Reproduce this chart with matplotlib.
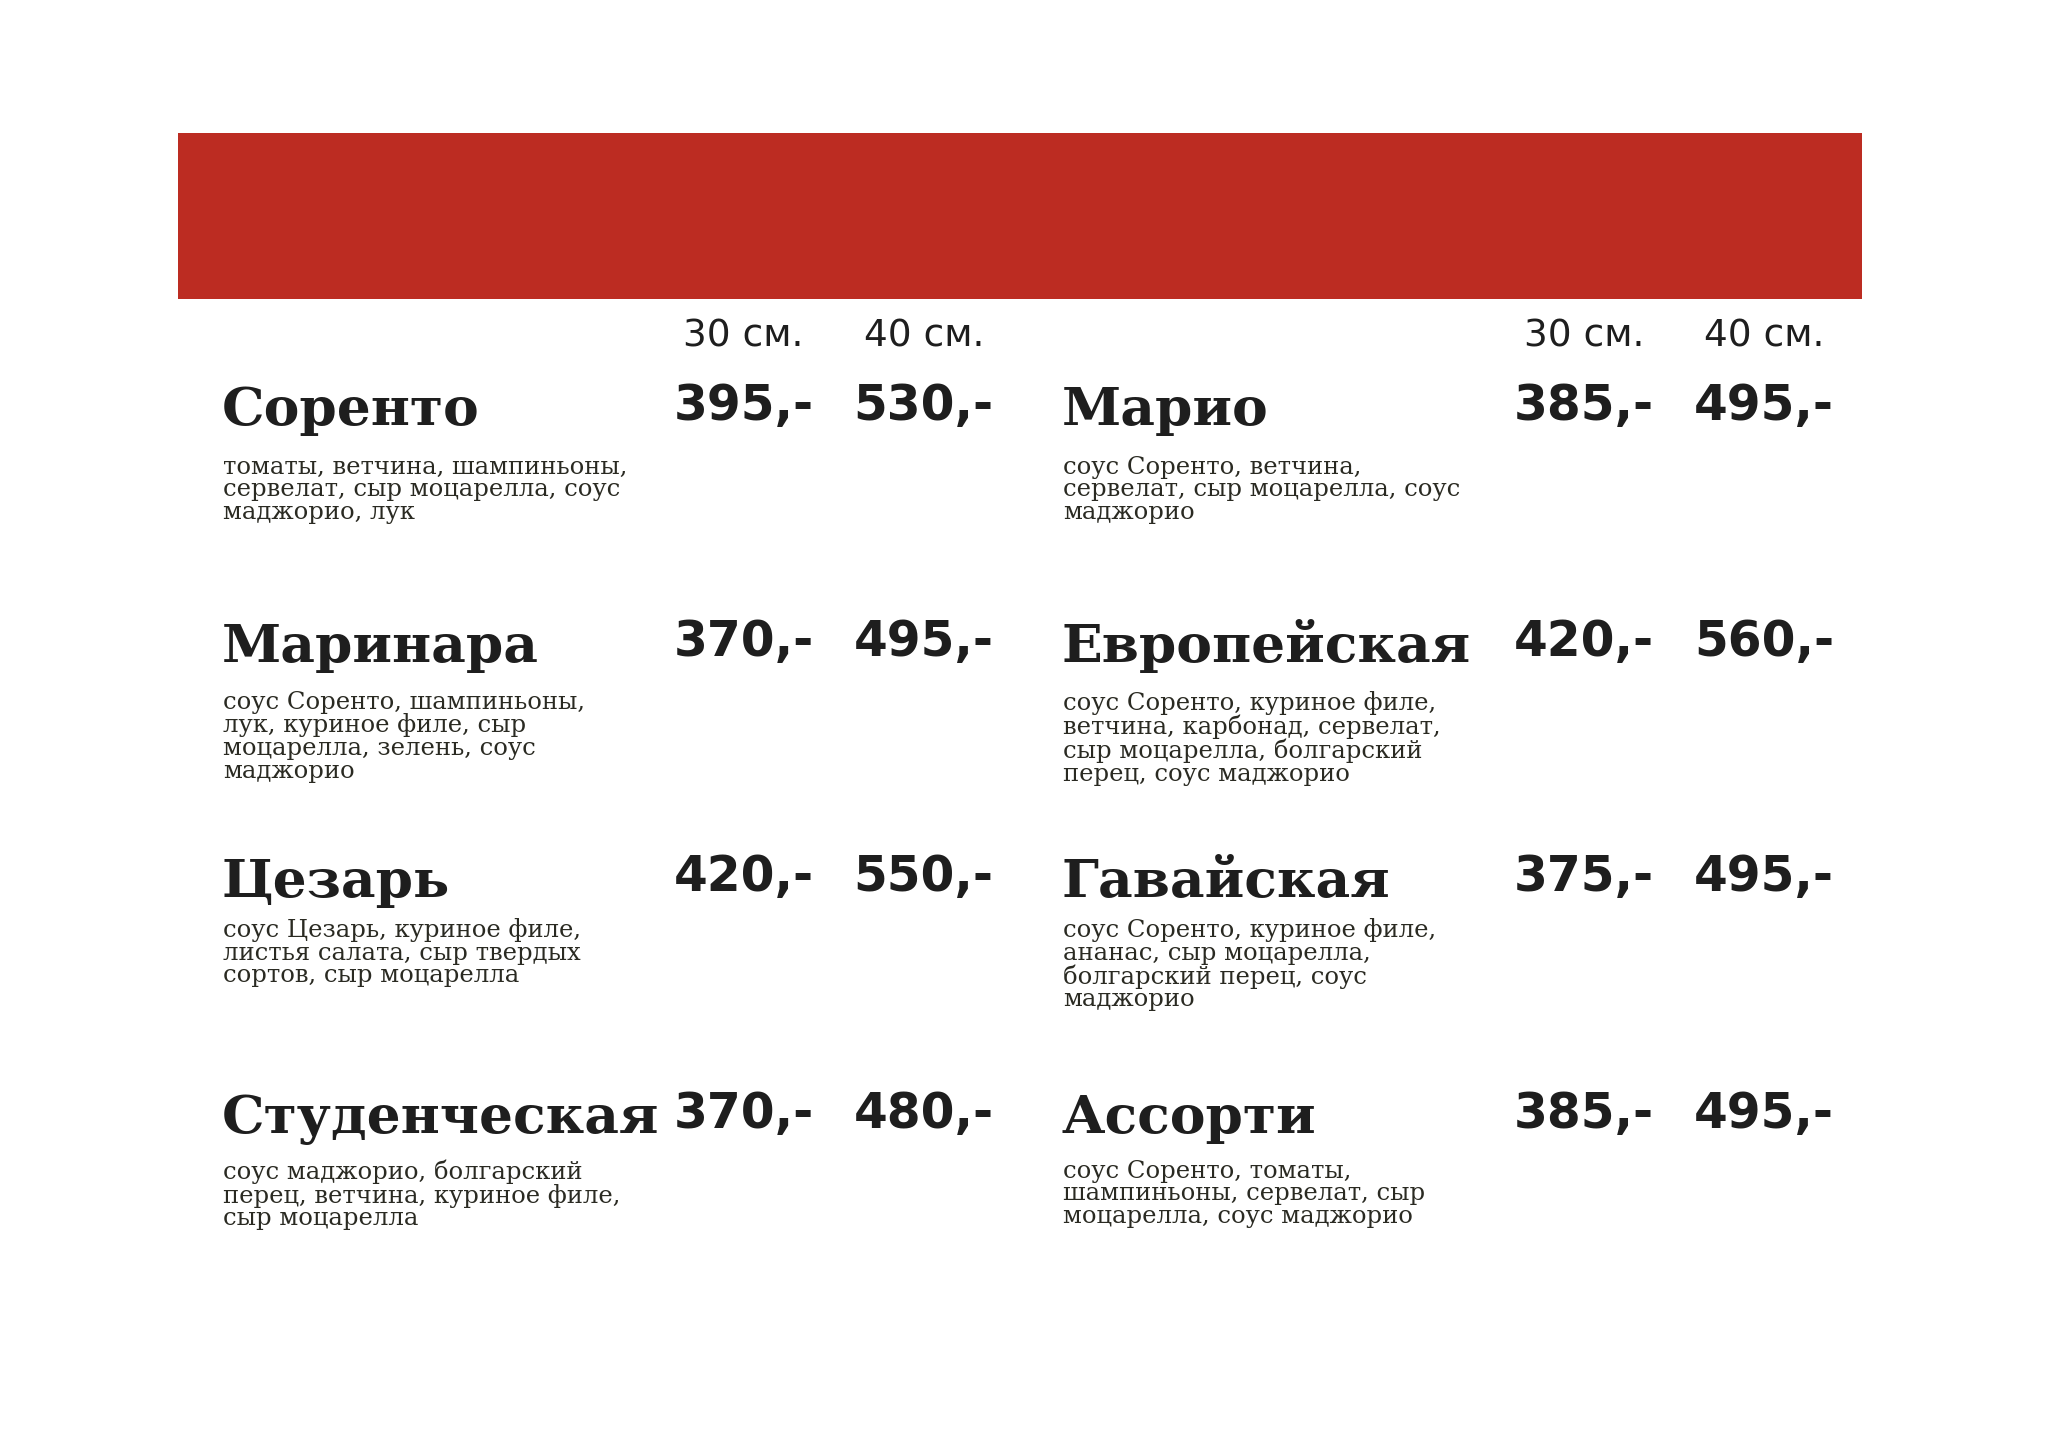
import matplotlib
matplotlib.use("Agg")
import matplotlib.pyplot as plt
from matplotlib.patches import Rectangle

names = ["Соренто", "Маринара", "Цезарь", "Студенческая",
         "Марио", "Европейская", "Гавайская", "Ассорти"]
prices30 = [395, 370, 420, 370, 385, 420, 375, 385]
prices40 = [530, 495, 550, 480, 495, 560, 495, 495]
descriptions = [
    "томаты, ветчина, шампиньоны,\nсервелат, сыр моцарелла, соус\nмаджорио, лук",
    "соус Соренто, шампиньоны,\nлук, куриное филе, сыр\nмоцарелла, зелень, соус\nмаджорио",
    "соус Цезарь, куриное филе,\nлистья салата, сыр твердых\nсортов, сыр моцарелла",
    "соус маджорио, болгарский\nперец, ветчина, куриное филе,\nсыр моцарелла",
    "соус Соренто, ветчина,\nсервелат, сыр моцарелла, соус\nмаджорио",
    "соус Соренто, куриное филе,\nветчина, карбонад, сервелат,\nсыр моцарелла, болгарский\nперец, соус маджорио",
    "соус Соренто, куриное филе,\nананас, сыр моцарелла,\nболгарский перец, соус\nмаджорио",
    "соус Соренто, томаты,\nшампиньоны, сервелат, сыр\nмоцарелла, соус маджорио",
]
size_labels = ["30 см.", "40 см."]

fig = plt.figure(figsize=(20.48, 14.48), dpi=100)
ax = fig.add_axes([0, 0, 1, 1])
ax.set_xlim(0, 1545)
ax.set_ylim(1090, 0)
ax.axis("off")

ax.add_patch(Rectangle((134, 100), 1271, 125, color="#bc2c22", lw=0))

name_y = [320, 498, 675, 853]
desc_y = [343, 520, 691, 873]
cols = [(167, 508, 644), (801, 1142, 1278)]
dark = "#1e1e1e"

for c, (xn, xp1, xp2) in enumerate(cols):
    for lab, xp in zip(size_labels, (xp1, xp2)):
        ax.text(xp + 53, 253, lab, ha="center", va="center",
                fontsize=27, family="DejaVu Sans", color=dark)
    for r in range(4):
        i = c * 4 + r
        ax.text(xn, name_y[r], names[i], ha="left", va="baseline",
                fontsize=38.5, family="DejaVu Serif", weight="bold", color=dark)
        ax.text(xp1, name_y[r] - 4, f"{prices30[i]},-", ha="left", va="baseline",
                fontsize=35, family="DejaVu Sans", weight="bold", color=dark)
        ax.text(xp2, name_y[r] - 4, f"{prices40[i]},-", ha="left", va="baseline",
                fontsize=35, family="DejaVu Sans", weight="bold", color=dark)
        ax.text(xn + 1, desc_y[r], descriptions[i], ha="left", va="top",
                fontsize=17.5, family="DejaVu Serif", color="#2a2a22",
                linespacing=0.98)

fig.savefig("out.png", dpi=100, facecolor="white")
